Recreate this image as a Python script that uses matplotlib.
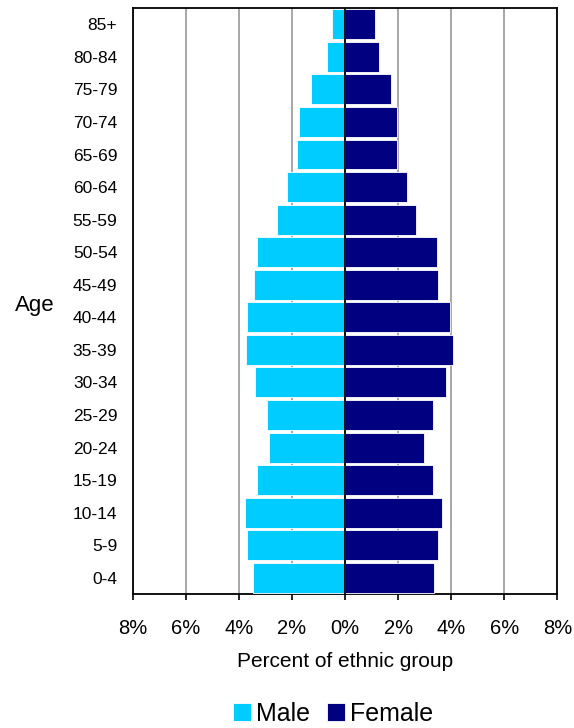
import matplotlib
matplotlib.use('Agg')
import matplotlib.pyplot as plt
import numpy as np

plt.rcParams['font.family'] = ['Liberation Sans', 'DejaVu Sans']

# Data
age_groups = ['0-4', '5-9', '10-14', '15-19', '20-24', '25-29', '30-34', '35-39',
              '40-44', '45-49', '50-54', '55-59', '60-64', '65-69', '70-74',
              '75-79', '80-84', '85+']
male = [3.48, 3.70, 3.77, 3.32, 2.86, 2.94, 3.39, 3.71, 3.70, 3.41, 3.32, 2.57,
        2.19, 1.81, 1.72, 1.28, 0.68, 0.47]
female = [3.37, 3.52, 3.67, 3.30, 2.99, 3.30, 3.82, 4.06, 3.97, 3.52, 3.45, 2.69,
          2.32, 1.96, 1.96, 1.72, 1.27, 1.12]
x_ticks = [-8, -6, -4, -2, 0, 2, 4, 6, 8]
x_labels = ['8%', '6%', '4%', '2%', '0%', '2%', '4%', '6%', '8%']

fig = plt.figure(figsize=(5.74, 7.28), dpi=100)
ax = fig.add_axes([0.231, 0.184, 0.740, 0.805])

y = np.arange(len(age_groups))
ax.barh(y, [-m for m in male], height=0.92, color='#00CCFF', edgecolor='white',
        linewidth=0.6, label='Male', zorder=3)
ax.barh(y, female, height=0.92, color='#000080', edgecolor='white',
        linewidth=0.6, label='Female', zorder=3)
ax.axvline(0, color='black', linewidth=1.3, zorder=4)

# x Axis
ax.set_xlim(-8, 8)
ax.set_xticks(x_ticks)
ax.set_xticklabels(x_labels, fontsize=14.5)
ax.tick_params(axis='x', direction='out', length=4, width=1.2, pad=14)
ax.grid(axis='x', color='#A0A0A0', linewidth=1.3, zorder=0)

# y Axis
ax.set_ylim(-0.5, len(age_groups) - 0.5)
ax.set_yticks(y)
ax.set_yticklabels(age_groups, fontsize=12.5)
ax.tick_params(axis='y', length=0, pad=11)

for s in ax.spines.values():
    s.set_linewidth(1.3)

# Labels
ax.set_xlabel('Percent of ethnic group', fontsize=15, labelpad=10)
fig.text(0.06, 0.58, 'Age', fontsize=16, ha='center', va='center')

# Legend
fig.legend(loc='lower center', bbox_to_anchor=(0.58, -0.028), ncol=2, frameon=False,
           fontsize=18, handlelength=0.7, handleheight=0.7, handletextpad=0.2,
           columnspacing=0.7)

fig.savefig('out.png', dpi=100)
